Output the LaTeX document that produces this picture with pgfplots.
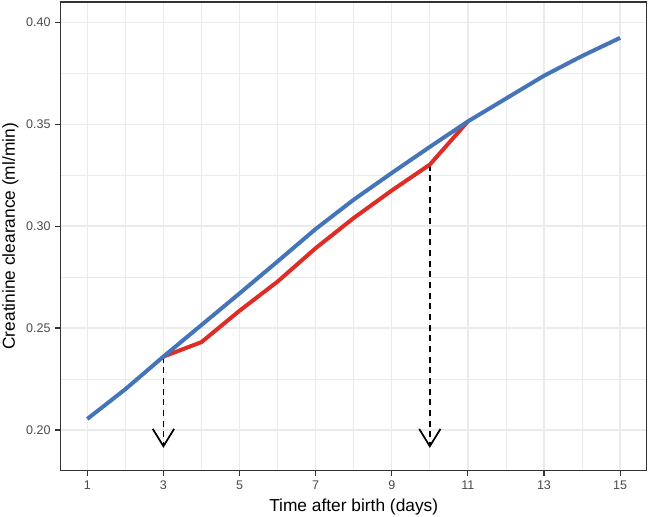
\documentclass[border=0pt]{standalone}
\usepackage{pgfplots}
\pgfplotsset{compat=1.18}
\usepackage{fontspec}
\setmainfont{Liberation Sans}
\usetikzlibrary{arrows.meta}
\definecolor{myblue}{RGB}{69,117,184}
\definecolor{myred}{RGB}{222,45,38}
\definecolor{grey20}{gray}{0.2}
\definecolor{grey30}{gray}{0.3}
\definecolor{grey92}{gray}{0.92}
\begin{document}
\begin{tikzpicture}
\begin{axis}[
  scale only axis,
  width=439.5pt, height=351.5pt,
  xmin=0.3, xmax=15.7, ymin=0.18, ymax=0.41,
  xtick={1,3,5,7,9,11,13,15},
  minor xtick={2,4,6,8,10,12,14},
  ytick={0.20,0.25,0.30,0.35,0.40},
  minor ytick={0.225,0.275,0.325,0.375},
  grid=both,
  major grid style={color=grey92, line width=1.1pt},
  minor grid style={color=grey92, line width=0.55pt},
  axis line style={color=grey20, line width=1.1pt},
  tick pos=left, tick align=outside,
  major tick length=4.1pt, minor tick length=0pt,
  every tick/.style={color=grey20, line width=0.9pt},
  tick label style={font=\fontsize{9.4}{11}\selectfont, color=grey30},
  /pgf/number format/assume math mode=true,
  yticklabel style={/pgf/number format/.cd, fixed, fixed zerofill, precision=2},
  label style={font=\fontsize{13}{15}\selectfont},
  xlabel={Time after birth (days)},
  ylabel={Creatinine clearance (ml/min)},
  xlabel style={at={(axis description cs:0.5,0)}, anchor=base, yshift=-30.5pt},
  ylabel style={at={(axis description cs:0,0.5)}, anchor=base, yshift=34.3pt},
]
\addplot[black, line width=1.3pt, dash pattern=on 4.5pt off 3.5pt,
  -{Straight Barb[length=13pt, width=16pt, line width=1.3pt]}]
  coordinates {(3,0.236) (3,0.1912)};
\addplot[black, line width=1.3pt, dash pattern=on 4.5pt off 3.5pt,
  -{Straight Barb[length=13pt, width=16pt, line width=1.3pt]}]
  coordinates {(10,0.3302) (10,0.1912)};
\addplot[myred, line width=3pt, line join=round] coordinates {
  (3,0.236) (4,0.2431) (5,0.2585) (6,0.2728) (7,0.2892) (8,0.3040)
  (9,0.3175) (10,0.3302) (11,0.3514)};
\addplot[myblue, line width=3pt, line join=round] coordinates {
  (1,0.2054) (2,0.2200) (3,0.2360) (4,0.2515) (5,0.2670) (6,0.2827)
  (7,0.2986) (8,0.3130) (9,0.3261) (10,0.3389) (11,0.3514) (12,0.3626)
  (13,0.3738) (14,0.3835) (15,0.3924)};
\end{axis}
\pgfresetboundingbox
\path[use as bounding box] (current axis.south west) ++(-45.5pt,-34pt) rectangle ([xshift=1.7pt,yshift=1.5pt]current axis.north east);
\end{tikzpicture}
\end{document}
